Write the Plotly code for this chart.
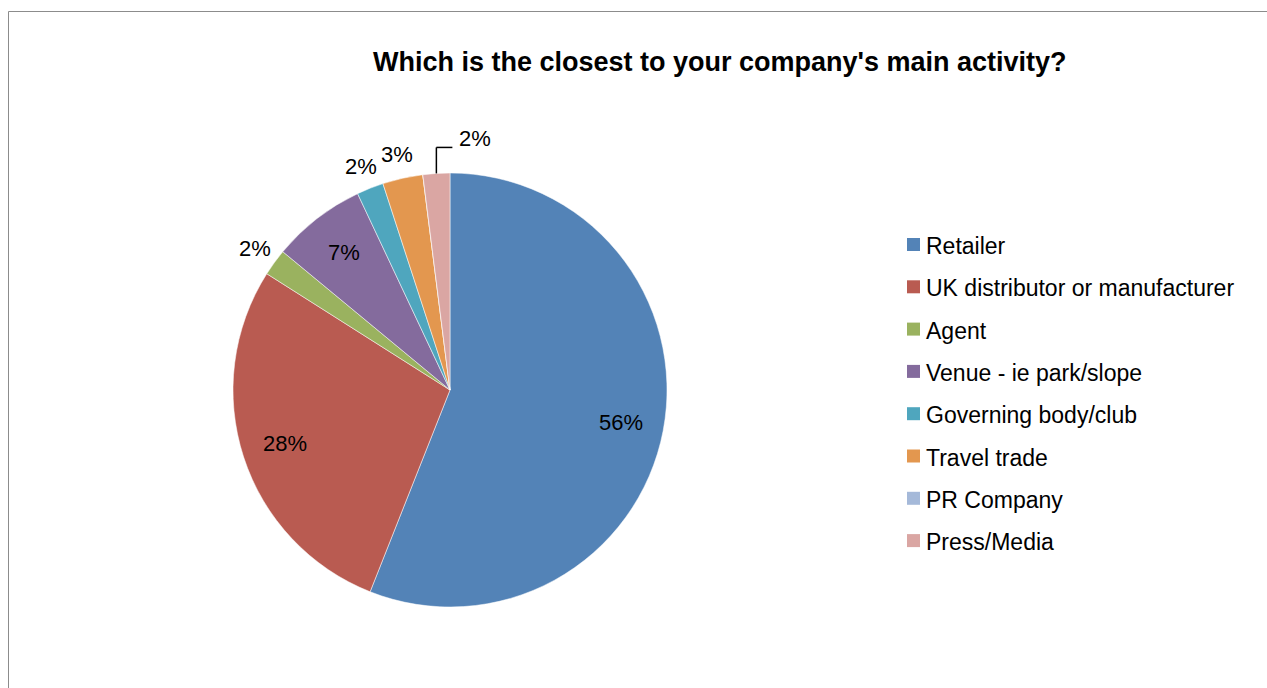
import math
import plotly.graph_objects as go

# Survey responses: share of companies by main activity (%)
categories = [
    "Retailer",
    "UK distributor or manufacturer",
    "Agent",
    "Venue - ie park/slope",
    "Governing body/club",
    "Travel trade",
    "PR Company",
    "Press/Media",
]
shares = [56, 28, 2, 7, 2, 3, 0, 2]
colors = ["#5383B7", "#B95B51", "#9AB25F", "#846B9D", "#4FA6BE", "#E3974F", "#A5B9D9", "#DAA6A3"]

# label placement: inside the slice or outside the rim
label_pos = ["in", "in", "out", "in", "out", "out", "none", "leader"]

W, H = 1267, 688
CX, CY, R = 450, 390, 217
FONT = "Liberation Sans, Arial, sans-serif"


def px(x):
    return x / W


def py(y):
    return 1 - y / H


fig = go.Figure(
    go.Pie(
        labels=categories,
        values=shares,
        sort=False,
        direction="clockwise",
        rotation=0,
        marker=dict(colors=colors, line=dict(color="white", width=0.5)),
        textinfo="none",
        hoverinfo="label+percent",
        showlegend=False,
        domain=dict(x=[px(CX - R), px(CX + R)], y=[py(CY + R), py(CY - R)]),
    )
)

annotations = []
shapes = []

# percentage labels placed from each slice's mid-angle
total = sum(shares)
cum = 0.0
for name, v, pos in zip(categories, shares, label_pos):
    start = cum
    cum += v
    if v <= 0 or pos == "none":
        continue
    mid = math.radians((start + v / 2) / total * 360)
    txt = f"{round(v / total * 100)}%"
    if pos == "leader":
        x0 = CX + R * math.sin(mid)
        y0 = CY - R * math.cos(mid)
        y1 = y0 - 26
        x1 = x0 + 16
        shapes.append(dict(type="line", xref="paper", yref="paper",
                           x0=px(x0), y0=py(y0), x1=px(x0), y1=py(y1),
                           line=dict(color="black", width=1.5)))
        shapes.append(dict(type="line", xref="paper", yref="paper",
                           x0=px(x0), y0=py(y1), x1=px(x1), y1=py(y1),
                           line=dict(color="black", width=1.5)))
        annotations.append(dict(x=px(x1 + 5), y=py(y1 - 9), xref="paper", yref="paper",
                                text=txt, showarrow=False, xanchor="left", yanchor="middle",
                                font=dict(family=FONT, size=22, color="black")))
        continue
    f = 0.8 if pos == "in" else 1.11
    lx = CX + f * R * math.sin(mid)
    ly = CY - f * R * math.cos(mid)
    annotations.append(dict(x=px(lx), y=py(ly), xref="paper", yref="paper",
                            text=txt, showarrow=False, xanchor="center", yanchor="middle",
                            font=dict(family=FONT, size=22, color="black")))

# legend drawn as squares and text rows
LEG_X, LEG_Y0, LEG_DY, SQ = 907, 245, 42.3, 13
for i, (name, c) in enumerate(zip(categories, colors)):
    yc = LEG_Y0 + i * LEG_DY
    shapes.append(dict(type="rect", xref="paper", yref="paper",
                       x0=px(LEG_X), x1=px(LEG_X + SQ), y0=py(yc + 6), y1=py(yc - 7),
                       fillcolor=c, line=dict(width=0)))
    annotations.append(dict(x=px(LEG_X + 17), y=py(yc + 1), xref="paper", yref="paper",
                            text=name, showarrow=False, xanchor="left", yanchor="middle",
                            font=dict(family=FONT, size=23, color="black")))

# chart title
annotations.append(dict(x=px(720), y=py(62), xref="paper", yref="paper",
                        text="<b>Which is the closest to your company's main activity?</b>",
                        showarrow=False, xanchor="center", yanchor="middle",
                        font=dict(family=FONT, size=27, color="black")))

# chart area frame
shapes.append(dict(type="rect", xref="paper", yref="paper",
                   x0=px(8.5), x1=1.02, y0=-0.02, y1=py(11.5),
                   line=dict(color="#8C8C8C", width=1), fillcolor="rgba(0,0,0,0)"))

fig.update_layout(
    width=W,
    height=H,
    margin=dict(l=0, r=0, t=0, b=0),
    paper_bgcolor="white",
    plot_bgcolor="white",
    annotations=annotations,
    shapes=shapes,
)

fig.write_html("out.html")
